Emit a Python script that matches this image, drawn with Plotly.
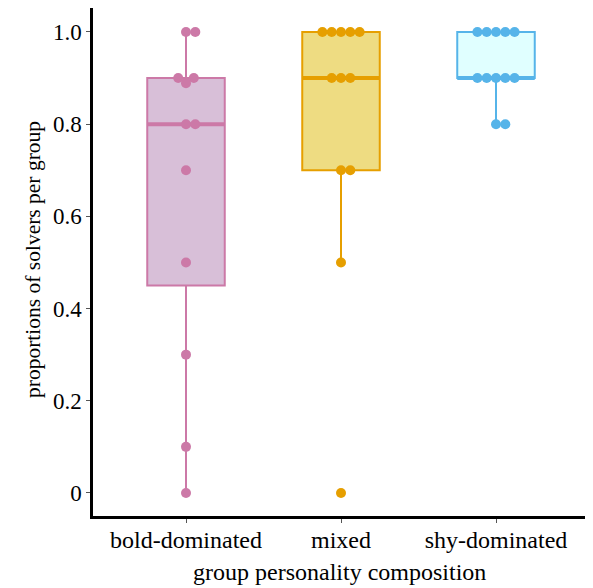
import math
import numpy as np
import plotly.graph_objects as go

categories = ["bold-dominated", "mixed", "shy-dominated"]
bold_values = [1.0, 1.0, 0.9, 0.9, 0.889, 0.8, 0.8, 0.7, 0.5, 0.3, 0.1, 0.0]
mixed_values = [1.0, 1.0, 1.0, 1.0, 1.0, 0.9, 0.9, 0.9, 0.7, 0.7, 0.5, 0.0]
shy_values = [1.0, 1.0, 1.0, 1.0, 1.0, 0.9, 0.9, 0.9, 0.9, 0.9, 0.8, 0.8]
y_tickvals = [0, 0.2, 0.4, 0.6, 0.8, 1.0]
y_ticktext = ["0", "0.2", "0.4", "0.6", "0.8", "1.0"]
x_title = "group personality composition"
y_title = "proportions of solvers per group"

series = [bold_values, mixed_values, shy_values]
line_colors = ["#CC79A7", "#E69F00", "#56B4E9"]
fill_colors = ["#D8BFD8", "#EEDC82", "#E0FFFF"]

OFF = 8  # browser default body margin
W, H = 593 - OFF, 588 - OFF
M = dict(l=93 - OFF, r=4, t=0, b=(588 - 516))
x_range = [-0.6, 2.6]
y_range = [-0.05, 1.052]
plot_h = H - M["t"] - M["b"]
px_x = (W - M["l"] - M["r"]) / (x_range[1] - x_range[0])
px_y = plot_h / (y_range[1] - y_range[0])
DOT = 9.3  # swarm spacing in px
BOX_W = 0.5


def swarm(vals):
    order = sorted(range(len(vals)), key=lambda i: vals[i])
    placed = []
    out = [0.0] * len(vals)
    for i in order:
        yp = vals[i] * px_y
        cands = [0.0]
        for (qx, qy) in placed:
            dy = abs(qy - yp)
            if dy < DOT:
                dx = math.sqrt(DOT * DOT - dy * dy)
                cands += [qx + dx, qx - dx]
        cands = sorted(set(round(c, 6) for c in cands), key=lambda c: (abs(c), -c))
        for c in cands:
            if all((c - qx) ** 2 + (yp - qy) ** 2 >= DOT * DOT - 1e-3 for qx, qy in placed):
                placed.append((c, yp))
                out[i] = c / px_x
                break
    return out


def stats(vals):
    a = np.array(vals)
    q1, med, q3 = np.percentile(a, [25, 50, 75])
    iqr = q3 - q1
    lo = a[a >= q1 - 1.5 * iqr].min()
    hi = a[a <= q3 + 1.5 * iqr].max()
    return q1, med, q3, lo, hi


fig = go.Figure()
for i, vals in enumerate(series):
    q1, med, q3, lo, hi = stats(vals)
    fig.add_trace(go.Box(
        x=[i], q1=[q1], median=[med], q3=[q3], lowerfence=[lo], upperfence=[hi],
        width=BOX_W, whiskerwidth=0, boxpoints=False,
        fillcolor=fill_colors[i], line=dict(color=line_colors[i], width=2),
        showlegend=False, hoverinfo="skip",
    ))
    fig.add_trace(go.Scatter(
        x=[i - BOX_W / 2, i + BOX_W / 2], y=[med, med], mode="lines",
        line=dict(color=line_colors[i], width=4), showlegend=False, hoverinfo="skip",
    ))
    offs = swarm(vals)
    fig.add_trace(go.Scatter(
        x=[i + o for o in offs], y=vals, mode="markers",
        marker=dict(color=line_colors[i], size=10, line=dict(width=0)),
        showlegend=False,
    ))

font_family = "'Liberation Serif', 'Times New Roman', Times, serif"
fig.update_layout(
    width=W, height=H, margin=M,
    paper_bgcolor="white", plot_bgcolor="white",
    font=dict(family=font_family, color="black"),
    annotations=[
        dict(text=x_title, xref="paper", yref="paper", x=0.5, y=0,
             xanchor="center", yanchor="middle", yshift=-56, xshift=-2,
             showarrow=False, font=dict(size=24, family=font_family, color="black")),
        dict(text=y_title, xref="paper", yref="paper", x=0, y=0.5,
             xanchor="center", yanchor="middle", xshift=33 - 93, yshift=2, textangle=-90,
             showarrow=False, font=dict(size=21.5, family=font_family, color="black")),
    ],
)
fig.update_xaxes(
    range=x_range, tickvals=[0, 1, 2], ticktext=categories, automargin=False,
    showgrid=False, zeroline=False, showline=True, linecolor="black", linewidth=2.5,
    ticks="outside", ticklen=4, tickcolor="#555", tickwidth=1, ticklabelstandoff=-4,
    tickfont=dict(size=24, family=font_family, color="black"),
)
fig.update_yaxes(
    range=y_range, tickvals=y_tickvals, ticktext=y_ticktext, automargin=False,
    showgrid=False, zeroline=False, showline=True, linecolor="black", linewidth=2.5,
    ticks="outside", ticklen=4, tickcolor="#555", tickwidth=1,
    tickfont=dict(size=23, family=font_family, color="black"),
)

fig.write_html("out.html")
